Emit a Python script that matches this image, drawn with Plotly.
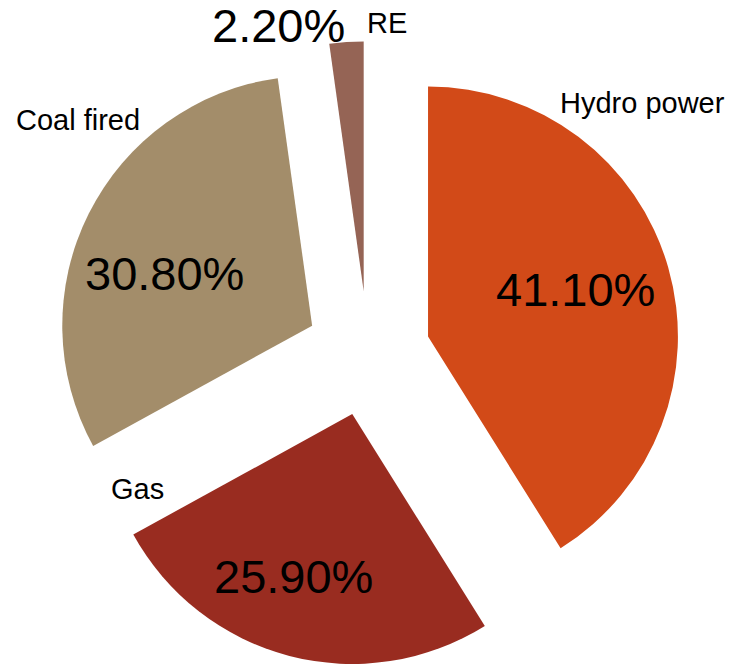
import plotly.graph_objects as go

labels = ["Hydro power", "Gas", "Coal fired", "RE"]
values = [41.1, 25.9, 30.8, 2.2]
colors = ["#D24A18", "#992C20", "#A38D6A", "#956455"]
pulls = [0.25, 0.25, 0.25, 0.25]

# category label placement (paper coords)
label_xy = {
    "Hydro power": (0.8808, 0.8453),
    "Gas": (0.189, 0.2658),
    "Coal fired": (0.1062, 0.8198),
    "RE": (0.5301, 0.9655),
}
# percentage label placement (paper coords)
pct_xy = {
    "Hydro power": (0.7877, 0.5650),
    "Gas": (0.4014, 0.1340),
    "Coal fired": (0.2247, 0.5890),
    "RE": (0.3815, 0.9610),
}

FONT = "Liberation Sans, Arial, sans-serif"

fig = go.Figure()
fig.add_trace(go.Pie(
    labels=labels,
    values=values,
    sort=False,
    direction="clockwise",
    rotation=0,
    pull=pulls,
    marker=dict(colors=colors, line=dict(width=0)),
    textinfo="none",
    showlegend=False,
    domain=dict(x=[0.0082, 1.0], y=[0.0, 0.938]),
    automargin=False,
))

total = sum(values)
for name, v in zip(labels, values):
    x, y = label_xy[name]
    fig.add_annotation(x=x, y=y, xref="paper", yref="paper", text=name,
                       showarrow=False, xanchor="center", yanchor="middle",
                       font=dict(family=FONT, size=29, color="black"))
    px, py = pct_xy[name]
    fig.add_annotation(x=px, y=py, xref="paper", yref="paper",
                       text=f"{100 * v / total:.2f}%",
                       showarrow=False, xanchor="center", yanchor="middle",
                       font=dict(family=FONT, size=47, color="black"))

fig.update_layout(
    width=730, height=666,
    margin=dict(l=0, r=0, t=0, b=0),
    paper_bgcolor="white",
    plot_bgcolor="white",
    showlegend=False,
)

fig.write_html("out.html")
